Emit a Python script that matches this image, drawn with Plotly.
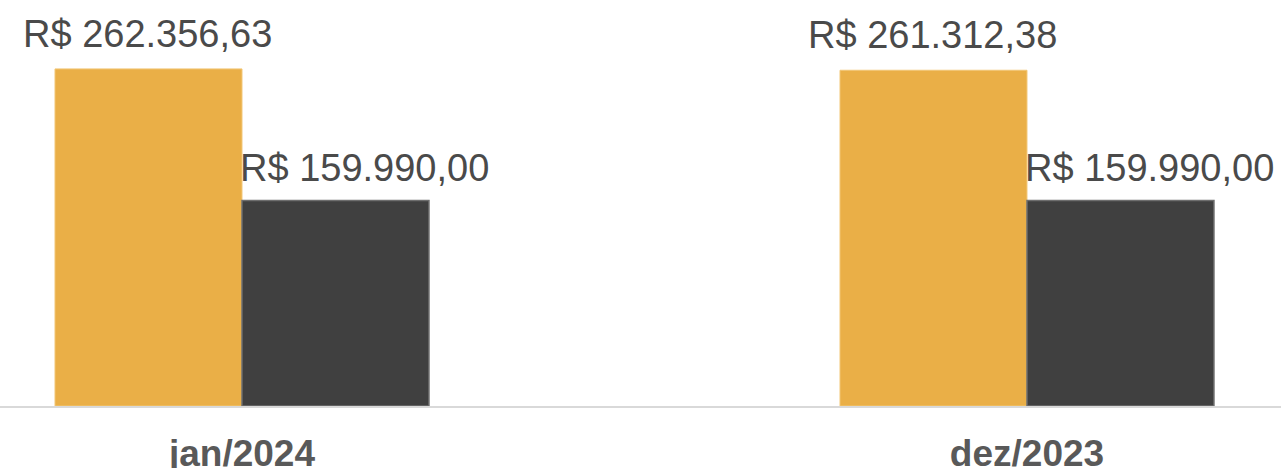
import plotly.graph_objects as go

categories = ["jan/2024", "dez/2023"]
series_a = [262356.63, 261312.38]
series_b = [159990.00, 159990.00]
labels_a = ["R$ 262.356,63", "R$ 261.312,38"]
labels_b = ["R$ 159.990,00", "R$ 159.990,00"]

ORANGE = "#EAAF47"
DARK = "#404040"
FONT = "Liberation Sans, Arial, sans-serif"

fig = go.Figure()
fig.add_trace(go.Bar(x=categories, y=series_a, marker=dict(color=ORANGE, line=dict(color="#F2C675", width=1)),
                     hoverinfo="skip", showlegend=False))
fig.add_trace(go.Bar(x=categories, y=series_b, marker=dict(color=DARK, line=dict(color="#6E6E6E", width=1.5)),
                     hoverinfo="skip", showlegend=False))

annotations = []
for c, v, t in zip(categories, series_a, labels_a):
    annotations.append(dict(x=c, y=v, text=t, xref="x", yref="y", showarrow=False,
                            xanchor="center", yanchor="bottom", xshift=-94, yshift=12,
                            font=dict(family=FONT, size=38, color="#4A4A4A")))
for c, v, t in zip(categories, series_b, labels_b):
    annotations.append(dict(x=c, y=v, text=t, xref="x", yref="y", showarrow=False,
                            xanchor="center", yanchor="bottom", xshift=123, yshift=9,
                            font=dict(family=FONT, size=38, color="#4A4A4A")))

fig.update_layout(
    width=1281, height=468,
    margin=dict(l=0, r=0, t=0, b=62, autoexpand=False),
    paper_bgcolor="white", plot_bgcolor="white",
    barmode="group", bargap=0.5236, bargroupgap=0,
    annotations=annotations,
    xaxis=dict(range=[-0.30828, 1.3236], showgrid=False, zeroline=False, automargin=False,
               showline=True, linecolor="#D9D9D9", linewidth=2, ticks="",
               tickfont=dict(family=FONT, size=37, color="#595959", weight="bold"),
               ticklabelstandoff=14),
    yaxis=dict(range=[0, 316000], showgrid=False, zeroline=False, showline=False, automargin=False,
               showticklabels=False, ticks=""),
)
fig.write_html("out.html", config={"displayModeBar": False},
               post_script="document.body.style.margin='0';document.body.style.padding='0';document.body.style.overflow='hidden';")
